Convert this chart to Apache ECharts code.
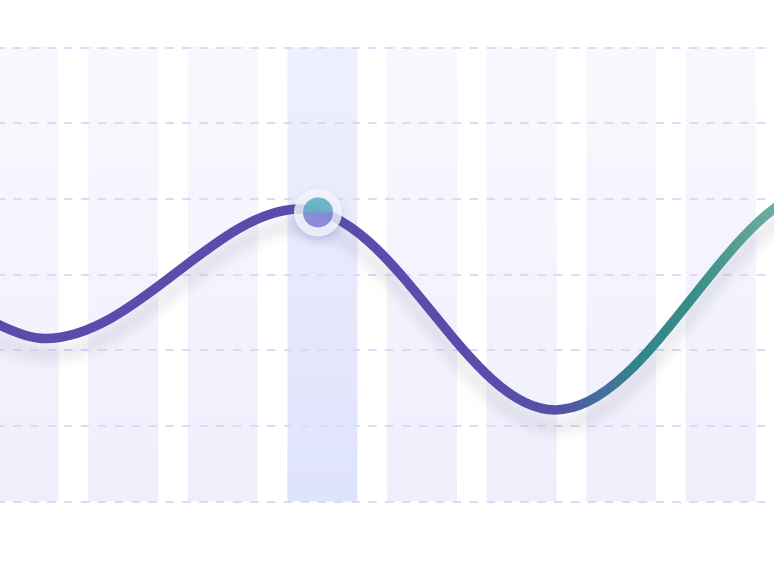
<!DOCTYPE html>
<html>
<head>
<meta charset="utf-8">
<script src="https://cdn.jsdelivr.net/npm/echarts@6/dist/echarts.min.js"></script>
<style>
  html, body { margin: 0; padding: 0; background: #ffffff; }
  #chart { width: 774px; height: 561px; }
</style>
</head>
<body>
<div id="chart"></div>
<script>
// ---- data ----
const categories = ['1', '2', '3', '4', '5', '6', '7', '8', '9'];
const barValues = [600, 600, 600, 600, 600, 600, 600, 600, 600];
const highlightBar = 3;

// line turning points (position in category units, value on the 0-600 scale)
const lineX = [-0.839, 0.215, 2.775, 5.335, 8.096, 9.402];
const lineY = [279.4, 215.3, 386.4, 120.9, 416.8, 292.6];

// highlighted marker on the line
const markerX = [2.956];
const markerY = [381.8];

const yMin = 0, yMax = 600, yStep = 100;

// ---- chart ----
const chart = echarts.init(document.getElementById('chart'), null, { renderer: 'canvas' });
const W = chart.getWidth();

const lineData = lineX.map((x, i) => [x, lineY[i]]);
const markerData = markerX.map((x, i) => [x, markerY[i]]);

const barData = barValues.map((v, i) => ({
  value: v,
  itemStyle: {
    color: i === highlightBar
      ? { type: 'linear', x: 0, y: 0, x2: 0, y2: 1, colorStops: [
          { offset: 0, color: '#eff0fd' }, { offset: 1, color: '#dfe3fb' }] }
      : { type: 'linear', x: 0, y: 0, x2: 0, y2: 1, colorStops: [
          { offset: 0, color: '#f8f8fe' }, { offset: 1, color: '#efeffc' }] }
  }
}));

const option = {
  animation: false,
  backgroundColor: '#ffffff',
  grid: { left: -26.2, right: -96.2, top: 47.3, bottom: 59.5, containLabel: false, outerBoundsMode: 'none' },
  xAxis: [
    { type: 'category', data: categories, boundaryGap: true, show: false },
    { type: 'value', min: -0.5, max: categories.length - 0.5, show: false }
  ],
  yAxis: {
    type: 'value', min: yMin, max: yMax, interval: yStep, z: 3,
    axisLine: { show: false }, axisTick: { show: false }, axisLabel: { show: false },
    splitLine: { show: true, lineStyle: { color: '#d9dbf8', width: 2, type: [8.5, 8.4], dashOffset: 11.2 } }
  },
  series: [
    {
      type: 'bar', xAxisIndex: 0, yAxisIndex: 0, z: 2,
      data: barData, barWidth: 70, silent: true
    },
    {
      type: 'line', xAxisIndex: 1, yAxisIndex: 0, z: 4,
      data: lineData, smooth: 0.35, showSymbol: false, silent: true,
      lineStyle: {
        width: 9.5,
        color: { type: 'linear', x: 0, y: 0, x2: W, y2: 0, global: true, colorStops: [
          { offset: 0, color: '#594cab' },
          { offset: 0.66, color: '#594cab' },
          { offset: 0.72, color: '#5351a8' },
          { offset: 0.78, color: '#43709c' },
          { offset: 0.83, color: '#318789' },
          { offset: 0.90, color: '#3a8f89' },
          { offset: 1, color: '#6fada2' }
        ] },
        shadowColor: 'rgba(30,30,70,0.14)', shadowBlur: 14, shadowOffsetY: 16
      }
    },
    {
      type: 'scatter', xAxisIndex: 1, yAxisIndex: 0, z: 5, silent: true,
      data: markerData, symbol: 'circle', symbolSize: 48,
      itemStyle: { color: '#f5f6fd', shadowColor: 'rgba(70,80,170,0.28)', shadowBlur: 10, shadowOffsetY: 5 }
    },
    {
      type: 'scatter', xAxisIndex: 1, yAxisIndex: 0, z: 6, silent: true,
      data: markerData, symbol: 'circle', symbolSize: 30,
      itemStyle: { color: { type: 'linear', x: 0, y: 0, x2: 0, y2: 1, colorStops: [
        { offset: 0, color: '#45abb9' }, { offset: 0.45, color: '#55a0c2' },
        { offset: 0.55, color: '#6c7ccf' }, { offset: 1, color: '#7b6dd4' }] } }
    }
  ]
};
chart.setOption(option);
</script>
</body>
</html>
